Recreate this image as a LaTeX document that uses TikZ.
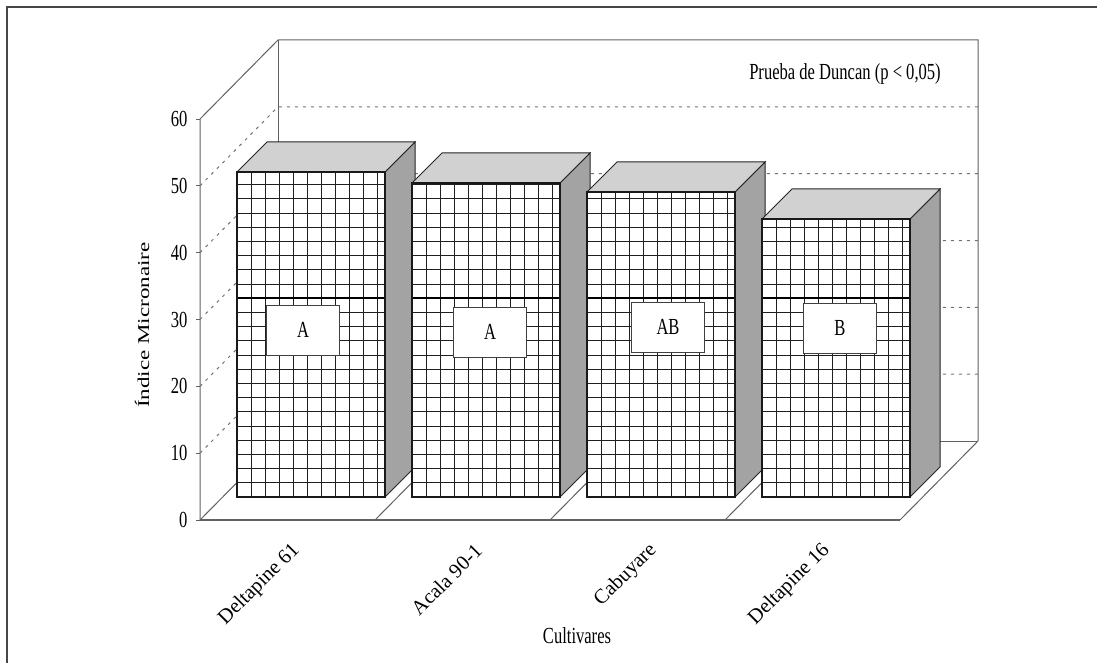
\documentclass[tikz,border=0pt]{standalone}
\usepackage{fontspec}
\setmainfont{Liberation Serif}
\begin{document}
\begin{tikzpicture}[x=1pt,y=-1pt,
    wall/.style={draw=black!62,line width=1pt},
    guide/.style={draw=black!55,dash pattern=on 3pt off 5pt,line width=1pt},
    cellgrid/.style={draw=black!88,line width=0.8pt},
    topface/.style={fill=black!18,draw=black!85,line width=1pt},
    sideface/.style={fill=black!36,draw=black!85,line width=1pt},
    lettbox/.style={draw=black!75,fill=white,line width=1pt,minimum width=52pt,minimum height=50pt,inner sep=0pt},
    txt/.style={font=\fontsize{23}{27}\selectfont,xscale=0.72},
    cattxt/.style={font=\fontsize{20.5}{24}\selectfont,anchor=east,rotate=45}]
    \useasboundingbox (0,0) rectangle (1097,663);
    \draw [line width=1.8pt,black!72] (7,663) -- (7,7) -- (1097,7);
    \coordinate (f0) at (200,520);
    \coordinate (f60) at (200,119);
    \coordinate (b0) at (278,441);
    \coordinate (b60) at (278,40);
    \coordinate (r60) at (978,40);
    \coordinate (r0) at (978,441);
    \coordinate (fr) at (900,520);
    \draw [wall] (f0) -- (f60) -- (b60) -- (r60) -- (r0) -- (fr);
    \draw [wall] (b60) -- (b0) -- (r0);
    \draw [wall] (f0) -- (b0);
    \draw [wall,line width=1.6pt] (f0) -- (fr);
    \foreach \d in {175,350,525}
        \draw [wall] (200+\d,520) -- (278+\d,441);
    \foreach \v in {10,20,30,40,50}
        \draw [guide] (200,520-6.683*\v) -- (278,441-6.683*\v) -- (978,441-6.683*\v);
    \foreach \v in {0,10,...,60}
        \draw [wall] (196,520-6.683*\v) -- (200,520-6.683*\v);
    \foreach \v in {0,10,...,60}
        \node [txt,anchor=east] (tick\v) at (190,520-6.683*\v) {\v};
    \node [txt,rotate=90] (ylab) at (142,325) {Índice Micronaire};
    \node [txt] (duncan) at (845,74) {Prueba de Duncan (p < 0,05)};
    \foreach \x/\t/\bx/\by/\lab/\name in {237/172/303/330/A/dp61,412/183/490/332/A/acala,587/192/668/327/AB/cabu,762/219/840/328/B/dp16} {
        \draw [sideface] (\x+148,\t) -- (\x+178,\t-30) -- (\x+178,467) -- (\x+148,497) -- cycle;
        \draw [topface] (\x,\t) -- (\x+30,\t-30) -- (\x+178,\t-30) -- (\x+148,\t) -- cycle;
        \fill [white] (\x,\t) rectangle (\x+148,497);
        \begin{scope}
            \clip (\x,\t) rectangle (\x+148,497);
            \foreach \i in {1,...,10}
                \draw [cellgrid] (\x+14*\i,\t) -- (\x+14*\i,497);
            \foreach \j in {1,...,23}
                \draw [cellgrid] (\x,497-14.2*\j) -- (\x+148,497-14.2*\j);
            \draw [black,line width=1.6pt] (\x,298.2) -- (\x+148,298.2);
        \end{scope}
        \draw [black!90,line width=1.6pt] (\x,\t) rectangle (\x+148,497);
        \node [lettbox,txt,minimum width=101pt] (box\name) at (\bx,\by) {\lab};
    }
    \node [cattxt] (cat1) at (299,545) {Deltapine 61};
    \node [cattxt] (cat2) at (481,545) {Acala 90-1};
    \node [cattxt] (cat3) at (656,545) {Cabuyare};
    \node [cattxt] (cat4) at (829,545) {Deltapine 16};
    \node [txt] (xlab) at (577,636) {Cultivares};
\end{tikzpicture}
\end{document}
